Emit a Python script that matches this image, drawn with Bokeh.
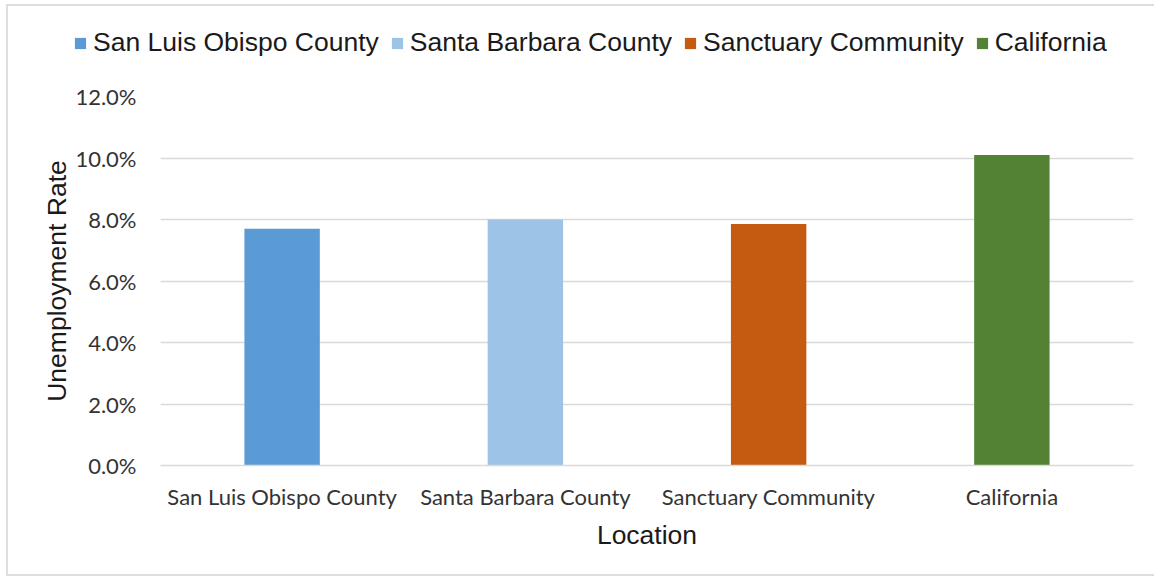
from bokeh.plotting import figure
from bokeh.layouts import column
from bokeh.models import (ColumnDataSource, NumeralTickFormatter, Legend, LegendItem,
                          FactorRange, Range1d, FixedTicker, InlineStyleSheet)
from bokeh.embed import file_html
from bokeh.resources import INLINE

locations = ["San Luis Obispo County", "Santa Barbara County", "Sanctuary Community", "California"]
rates = [0.077, 0.080, 0.0785, 0.101]
colors = ["#5B9BD5", "#9DC3E6", "#C55A11", "#548235"]
y_ticks = [0.0, 0.02, 0.04, 0.06, 0.08, 0.10, 0.12]

source = ColumnDataSource(dict(location=locations, rate=rates, color=colors))

# ---- legend strip (same data, bars kept outside its view) ----
leg_fig = figure(x_range=FactorRange(*locations), y_range=Range1d(1, 2),
                 width=1154, height=70, min_border=0,
                 output_backend="svg", toolbar_location=None)
leg_fig.axis.visible = False
leg_fig.grid.visible = False
leg_fig.outline_line_color = None
leg_fig.background_fill_color = None
leg_fig.border_fill_color = None
try:
    leg_fig.frame_align = False
    leg_loc = (73, 12)
except Exception:
    leg_loc = (-87, 12)
lr = leg_fig.vbar(x="location", top="rate", width=0.31, color="color", source=source, line_color=None)
legend = Legend(items=[LegendItem(label=dict(field="location"), renderers=[lr])],
                orientation="horizontal", location=leg_loc,
                glyph_width=14, glyph_height=14, label_standoff=6, spacing=11,
                padding=0, margin=0, border_line_color=None, background_fill_color=None,
                label_text_font="Liberation Sans", label_text_font_size="26.5px",
                label_text_color="#1a1a1a")
leg_fig.add_layout(legend, "center")

# ---- main chart ----
p = figure(x_range=FactorRange(*locations), y_range=Range1d(0, 0.12),
           frame_width=973, frame_height=369,
           min_border_left=160, min_border_right=21, min_border_top=26, min_border_bottom=115,
           output_backend="svg", toolbar_location=None)
try:
    p.frame_align = False
except Exception:
    pass

p.vbar(x="location", top="rate", width=0.31, color="color", source=source, line_color=None)

p.outline_line_color = None
p.background_fill_color = "white"
p.border_fill_color = None

p.xgrid.grid_line_color = None
p.ygrid.grid_line_color = "#d9d9d9"
p.ygrid.grid_line_width = 1.5
p.yaxis.ticker = FixedTicker(ticks=y_ticks)
p.yaxis.formatter = NumeralTickFormatter(format="0.0%")

for ax in (p.xaxis[0], p.yaxis[0]):
    ax.major_tick_line_color = None
    ax.minor_tick_line_color = None
    ax.major_label_text_font = "Lato"
    ax.major_label_text_font_size = "22px"
    ax.major_label_text_color = "#333333"
    ax.axis_label_text_font = "Liberation Sans"
    ax.axis_label_text_font_size = "26.5px"
    ax.axis_label_text_font_style = "normal"
    ax.axis_label_text_color = "#1a1a1a"

p.yaxis.axis_line_color = None
p.xaxis.axis_line_color = "#d9d9d9"
p.xaxis.axis_line_width = 1.5
p.xaxis.major_label_standoff = 11
p.xaxis.axis_label = "Location"
p.xaxis.axis_label_standoff = 7
p.yaxis.axis_label = "Unemployment Rate"
p.yaxis.major_label_standoff = 18
p.yaxis.axis_label_standoff = 0

layout = column(leg_fig, p, spacing=0)
layout.stylesheets = [InlineStyleSheet(css=""":host::before { content: ""; position: absolute;
  left: 6px; top: 4px; right: -20px; bottom: 4px; border: 2px solid #dedede; }""")]

open("out.html", "w").write(file_html(layout, INLINE))
